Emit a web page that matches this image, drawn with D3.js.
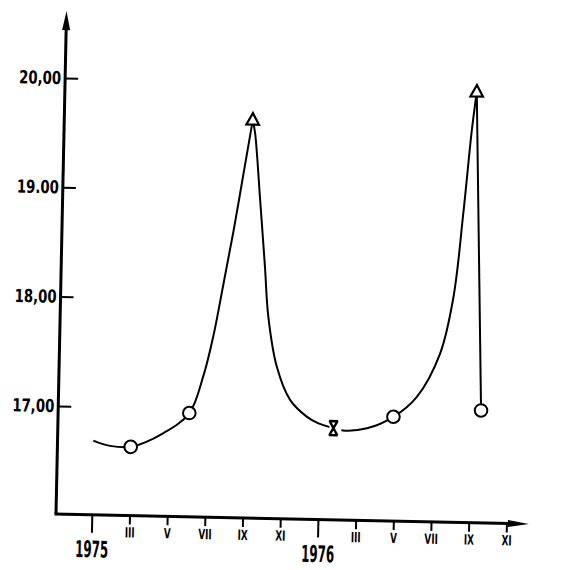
<!DOCTYPE html>
<html><head><meta charset="utf-8">
<script src="https://cdn.jsdelivr.net/npm/d3@7"></script>
<style>html,body{margin:0;padding:0;background:#fff;}</style>
</head><body>
<svg id="chart" width="580" height="570"></svg>
<script>
// Axis ticks (month index: 0 = January 1975)
const tickMonths = [0, 2, 4, 6, 8, 10, 12, 14, 16, 18, 20, 22];
const tickLabels = ["1975", "III", "V", "VII", "IX", "XI", "1976", "III", "V", "VII", "IX", "XI"];
const yTickValues = [17, 18, 19, 20];
const yTickLabels = ["17,00", "18,00", "19.00", "20,00"];

// Traced curve: Jan 1975 -> first peak
const riseMonths = [0, 0.89, 1.99, 3.69, 5.06, 5.76, 6.25, 6.72, 7.20, 7.66, 8.10];
const riseValues = [16.69, 16.645, 16.64, 16.77, 16.96, 17.30, 17.67, 18.14, 18.63, 19.15, 19.65];
// Traced curve: first peak -> second peak
const cycleMonths = [8.10, 8.24, 8.58, 8.91, 9.14, 9.65, 10.39, 11.29, 11.92, 12.72, 13.23, 14.5, 15.89, 17.1, 18.29, 18.94, 19.37, 19.73, 19.95];
const cycleValues = [19.65, 19.53, 18.92, 18.31, 17.86, 17.40, 17.10, 16.95, 16.89, 16.85, 16.83, 16.855, 16.965, 17.15, 17.55, 18.07, 18.84, 19.60, 19.95];
// Straight drop after second peak
const dropMonths = [19.95, 20.53];
const dropValues = [19.95, 17.04];

// Markers
const circleMonths = [1.99, 5.06, 15.89, 20.53];
const circleValues = [16.64, 16.96, 16.965, 17.04];
const triangleMonths = [8.10, 19.95];
const triangleValues = [19.65, 19.95];
const crossMonths = [12.72];
const crossValues = [16.85];

const svg = d3.select("#chart");
const g = svg.append("g").attr("transform", "translate(56,514) rotate(1.2)");

const x = d3.scaleLinear().domain([0, 22]).range([35.8, 450.5]);
const y = d3.scaleLinear().domain([16, 20]).range([1.3, -436.2]);

const fontFam = "'Liberation Sans Narrow', 'DejaVu Sans Condensed', 'DejaVu Sans', sans-serif";

// Y axis
const yAxisG = g.append("g").call(
  d3.axisLeft(y).tickValues(yTickValues)
    .tickFormat((d, i) => yTickLabels[i])
    .tickSize(-13).tickPadding(4)
);
yAxisG.select(".domain").remove();
yAxisG.selectAll(".tick line").attr("stroke", "#000").attr("stroke-width", 2);
yAxisG.selectAll(".tick text")
  .attr("fill", "#000")
  .style("font-family", fontFam)
  .style("font-weight", "bold")
  .style("font-size", "18px")
  .attr("textLength", 42)
  .attr("lengthAdjust", "spacingAndGlyphs");

// X axis
const xAxisG = g.append("g").call(
  d3.axisBottom(x).tickValues(tickMonths)
    .tickFormat((d, i) => tickLabels[i])
    .tickSizeOuter(0)
);
xAxisG.select(".domain").remove();
xAxisG.selectAll(".tick line")
  .attr("stroke", "#000").attr("stroke-width", 2)
  .attr("y2", (d, i) => (i % 6 === 0 ? 18 : 9));
xAxisG.selectAll(".tick text")
  .attr("fill", "#000")
  .attr("dy", null)
  .attr("y", (d, i) => (i % 6 === 0 ? 42.5 : 22))
  .style("font-family", fontFam)
  .style("font-weight", "bold")
  .style("font-size", (d, i) => (i % 6 === 0 ? "23px" : "14px"))
  .each(function (d, i) {
    const t = d3.select(this);
    if (i % 6 === 0) {
      t.attr("textLength", 33).attr("lengthAdjust", "spacingAndGlyphs");
    } else {
      const w = this.getComputedTextLength();
      t.attr("textLength", (w * 0.7).toFixed(1)).attr("lengthAdjust", "spacingAndGlyphs");
    }
  });

// Axis lines with arrows
g.append("line").attr("x1", 0).attr("y1", 0).attr("x2", 0).attr("y2", -488)
  .attr("stroke", "#000").attr("stroke-width", 3);
g.append("path").attr("d", "M0,-503 L4,-484 L-4,-484 Z").attr("fill", "#000");
g.append("line").attr("x1", -1.5).attr("y1", 0).attr("x2", 456).attr("y2", 0)
  .attr("stroke", "#000").attr("stroke-width", 3);
g.append("path").attr("d", "M473,0 L452,-3.5 L452,3.5 Z").attr("fill", "#000");

// Curves
const curveLine = d3.line().x(d => x(d[0])).y(d => y(d[1])).curve(d3.curveCatmullRom.alpha(0.5));
const straight = d3.line().x(d => x(d[0])).y(d => y(d[1]));
g.append("path").attr("d", curveLine(d3.zip(riseMonths, riseValues)))
  .attr("fill", "none").attr("stroke", "#000").attr("stroke-width", 2);
g.append("path").attr("d", curveLine(d3.zip(cycleMonths, cycleValues)))
  .attr("fill", "none").attr("stroke", "#000").attr("stroke-width", 2);
g.append("path").attr("d", straight(d3.zip(dropMonths, dropValues)))
  .attr("fill", "none").attr("stroke", "#000").attr("stroke-width", 2);

// Cross marker (with small gap in the curve)
const crosses = g.selectAll(".cross").data(d3.zip(crossMonths, crossValues)).enter()
  .append("g").attr("class", "cross")
  .attr("transform", d => `translate(${x(d[0])},${y(d[1])})`);
crosses.append("rect").attr("x", -4).attr("y", -5).attr("width", 12).attr("height", 10).attr("fill", "#fff");
crosses.append("path")
  .attr("d", "M-4,-7 L4,7 M4,-7 L-4,7 M-4.5,-7 L4.5,-7 M-4.5,7 L4.5,7")
  .attr("fill", "none").attr("stroke", "#000").attr("stroke-width", 2.4);

// Circle markers
g.selectAll(".circ").data(d3.zip(circleMonths, circleValues)).enter()
  .append("circle").attr("class", "circ")
  .attr("cx", d => x(d[0])).attr("cy", d => y(d[1])).attr("r", 6.3)
  .attr("fill", "#fff").attr("stroke", "#000").attr("stroke-width", 2);

// Triangle markers
g.selectAll(".tri").data(d3.zip(triangleMonths, triangleValues)).enter()
  .append("path").attr("class", "tri")
  .attr("transform", d => `translate(${x(d[0])},${y(d[1])})`)
  .attr("d", "M0,-7 L6.3,4.5 L-6.3,4.5 Z")
  .attr("fill", "#fff").attr("stroke", "#000").attr("stroke-width", 2.2)
  .attr("stroke-linejoin", "miter");
</script>
</body></html>
